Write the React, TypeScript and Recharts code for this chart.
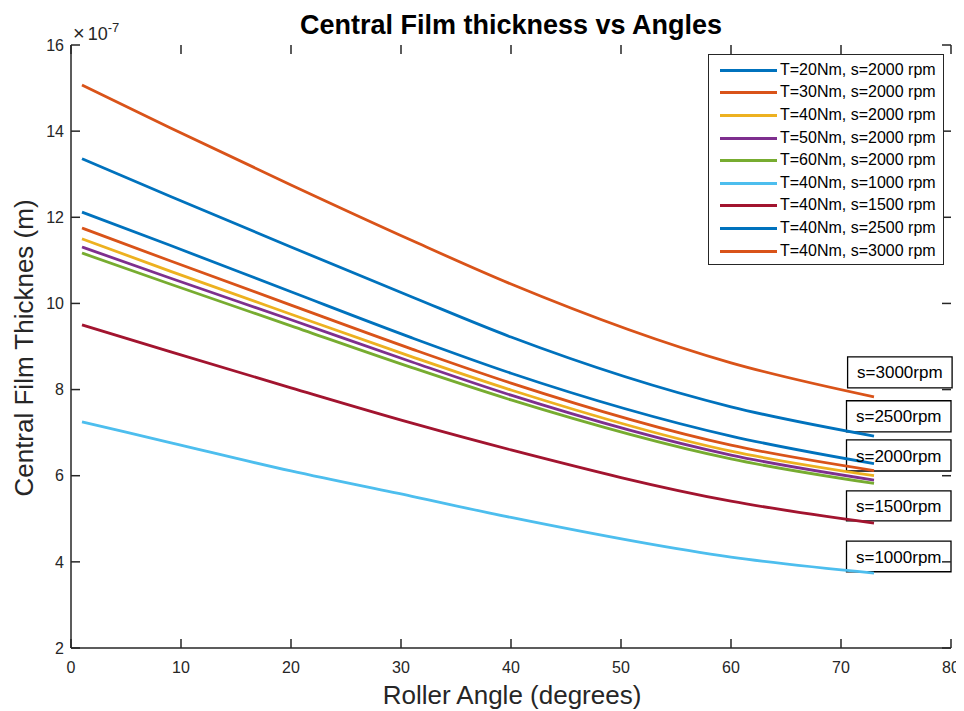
import React from 'react';
import { LineChart, Line, XAxis, YAxis, ReferenceArea, ReferenceLine } from 'recharts';

// Roller angle (degrees)
const angles = [1, 9, 20, 31, 40, 60, 73];

// Central film thickness (x 1e-7 m)
const t20s2000 = [12.12, 11.35, 10.27, 9.2, 8.38, 6.92, 6.28];
const t30s2000 = [11.75, 10.99, 9.96, 8.94, 8.15, 6.71, 6.12];
const t40s2000 = [11.5, 10.75, 9.75, 8.76, 7.99, 6.57, 6.0];
const t50s2000 = [11.31, 10.59, 9.62, 8.64, 7.87, 6.48, 5.9];
const t60s2000 = [11.17, 10.45, 9.48, 8.51, 7.76, 6.39, 5.82];
const t40s1000 = [7.25, 6.77, 6.11, 5.52, 5.03, 4.11, 3.74];
const t40s1500 = [9.5, 8.88, 8.04, 7.22, 6.6, 5.41, 4.9];
const t40s2500 = [13.36, 12.49, 11.31, 10.15, 9.22, 7.6, 6.92];
const t40s3000 = [15.07, 14.08, 12.75, 11.46, 10.45, 8.62, 7.83];

const seriesNames = [
  'T=20Nm, s=2000 rpm',
  'T=30Nm, s=2000 rpm',
  'T=40Nm, s=2000 rpm',
  'T=50Nm, s=2000 rpm',
  'T=60Nm, s=2000 rpm',
  'T=40Nm, s=1000 rpm',
  'T=40Nm, s=1500 rpm',
  'T=40Nm, s=2500 rpm',
  'T=40Nm, s=3000 rpm',
];
const seriesValues = [t20s2000, t30s2000, t40s2000, t50s2000, t60s2000, t40s1000, t40s1500, t40s2500, t40s3000];
const seriesColors = ['#0072BD', '#D95319', '#EDB120', '#7E2F8E', '#77AC30', '#4DBEEE', '#A2142F', '#0072BD', '#D95319'];

const xTicks = [0, 10, 20, 30, 40, 50, 60, 70, 80];
const yTicks = [2, 4, 6, 8, 10, 12, 14, 16];
const X_DOMAIN = [0, 80];
const Y_DOMAIN = [2, 16];

// Annotation text boxes (data units)
const annotLabels = ['s=3000rpm', 's=2500rpm', 's=2000rpm', 's=1500rpm', 's=1000rpm'];
const annotX1 = [70.6, 70.5, 70.5, 70.5, 70.5];
const annotX2 = [80.1, 80, 80, 80, 80];
const annotTop = [8.76, 7.74, 6.83, 5.65, 4.48];
const annotBottom = [8.04, 7.02, 6.11, 4.95, 3.77];

const FONT = '"Liberation Sans", Arial, Helvetica, sans-serif';
const AX = '#262626';
const noLabel = () => '';

// plot box size in px (used only to express the inward tick length in data units)
const PLOT_W = 880;
const PLOT_H = 603;
const TICK_PX = 9;

export default function App() {
  const data = angles.map((a, i) => {
    const row: Record<string, number> = { angle: a };
    seriesValues.forEach((vals, k) => {
      row['s' + k] = vals[i];
    });
    return row;
  });

  const lineStyle = { stroke: AX, strokeWidth: 1.5 };
  const tx = (TICK_PX / PLOT_W) * (X_DOMAIN[1] - X_DOMAIN[0]);
  const ty = (TICK_PX / PLOT_H) * (Y_DOMAIN[1] - Y_DOMAIN[0]);

  const tickSegs: { key: string; seg: { x: number; y: number }[] }[] = [];
  xTicks.forEach((t) => {
    tickSegs.push({ key: 'xb' + t, seg: [{ x: t, y: Y_DOMAIN[0] }, { x: t, y: Y_DOMAIN[0] + ty }] });
    tickSegs.push({ key: 'xt' + t, seg: [{ x: t, y: Y_DOMAIN[1] }, { x: t, y: Y_DOMAIN[1] - ty }] });
  });
  yTicks.forEach((t) => {
    tickSegs.push({ key: 'yl' + t, seg: [{ x: X_DOMAIN[0], y: t }, { x: X_DOMAIN[0] + tx, y: t }] });
    tickSegs.push({ key: 'yr' + t, seg: [{ x: X_DOMAIN[1], y: t }, { x: X_DOMAIN[1] - tx, y: t }] });
  });

  return (
    <div style={{ position: 'relative', width: 956, height: 703, fontFamily: FONT, background: '#fff' }}>
      <LineChart width={956} height={703} data={data} margin={{ top: 37, right: 13, bottom: 0, left: 0 }} style={{ fontFamily: FONT }}>
        <XAxis
          xAxisId="b"
          dataKey="angle"
          type="number"
          domain={X_DOMAIN}
          ticks={xTicks}
          interval={0}
          orientation="bottom"
          height={63}
          tickSize={0}
          tickMargin={14}
          axisLine={lineStyle}
          tickLine={false}
          tick={{ fill: AX, fontSize: 16, fontFamily: FONT }}
        />
        <XAxis
          xAxisId="t"
          dataKey="angle"
          type="number"
          domain={X_DOMAIN}
          ticks={xTicks}
          interval={0}
          orientation="top"
          height={0}
          tickSize={0}
          tickFormatter={noLabel}
          axisLine={lineStyle}
          tickLine={false}
        />
        <YAxis
          yAxisId="l"
          type="number"
          domain={Y_DOMAIN}
          ticks={yTicks}
          interval={0}
          orientation="left"
          width={63}
          tickSize={0}
          tickMargin={7}
          axisLine={lineStyle}
          tickLine={false}
          tick={{ fill: AX, fontSize: 16, fontFamily: FONT }}
        />
        <YAxis
          yAxisId="r"
          type="number"
          domain={Y_DOMAIN}
          ticks={yTicks}
          interval={0}
          orientation="right"
          width={0}
          tickSize={0}
          tickFormatter={noLabel}
          axisLine={lineStyle}
          tickLine={false}
        />
        {tickSegs.map((t) => (
          <ReferenceLine key={t.key} xAxisId="b" yAxisId="l" segment={t.seg} stroke={AX} strokeWidth={1.5} ifOverflow="visible" />
        ))}
        {seriesNames.map((name, k) => (
          <Line
            key={name}
            xAxisId="b"
            yAxisId="l"
            type="monotone"
            dataKey={'s' + k}
            name={name}
            stroke={seriesColors[k]}
            strokeWidth={2.8}
            dot={false}
            isAnimationActive={false}
          />
        ))}
        {annotLabels.map((lab, i) => (
          <ReferenceArea
            key={lab}
            xAxisId="b"
            yAxisId="l"
            x1={annotX1[i]}
            x2={annotX2[i]}
            y1={annotBottom[i]}
            y2={annotTop[i]}
            ifOverflow="visible"
            fill="none"
            fillOpacity={0}
            stroke="#000"
            strokeWidth={1.3}
            label={{ value: lab, position: 'center', fill: '#000', fontSize: 17, fontFamily: FONT }}
          />
        ))}
      </LineChart>

      {/* Title */}
      <div
        style={{
          position: 'absolute',
          left: 503,
          top: 4,
          transform: 'translateX(-50%)',
          fontSize: 27,
          lineHeight: '26px',
          fontWeight: 'bold',
          whiteSpace: 'nowrap',
          color: '#000',
        }}
      >
        Central Film thickness vs Angles
      </div>

      {/* Exponent */}
      <div style={{ position: 'absolute', left: 65, top: 17, fontSize: 18, lineHeight: '16px', color: AX, whiteSpace: 'nowrap' }}>
        <span style={{ fontSize: 20, marginRight: 3 }}>×</span>10<span style={{ fontSize: 13, position: 'relative', top: -8 }}>-7</span>
      </div>

      {/* X label */}
      <div
        style={{
          position: 'absolute',
          left: 504,
          top: 674,
          transform: 'translateX(-50%)',
          fontSize: 26,
          lineHeight: '26px',
          whiteSpace: 'nowrap',
          color: AX,
        }}
      >
        Roller Angle (degrees)
      </div>

      {/* Y label */}
      <div
        style={{
          position: 'absolute',
          left: 16,
          top: 340,
          transform: 'translate(-50%, -50%) rotate(-90deg)',
          fontSize: 26,
          lineHeight: '26px',
          whiteSpace: 'nowrap',
          color: AX,
        }}
      >
        Central Film Thicknes (m)
      </div>

      {/* Legend */}
      <div
        style={{
          position: 'absolute',
          left: 700,
          top: 46,
          width: 234,
          height: 209,
          border: '1px solid ' + AX,
          background: '#fff',
          boxSizing: 'content-box',
        }}
      >
        {seriesNames.map((name, k) => (
          <div key={name} style={{ position: 'absolute', left: 0, top: 3.7 + k * 22.6, height: 22.6, width: 234 }}>
            <div style={{ position: 'absolute', left: 11, top: 10, width: 57, height: 3, background: seriesColors[k] }} />
            <div style={{ position: 'absolute', left: 71, top: 3, fontSize: 16, lineHeight: '16px', whiteSpace: 'nowrap', color: '#000' }}>
              {name}
            </div>
          </div>
        ))}
      </div>
    </div>
  );
}
